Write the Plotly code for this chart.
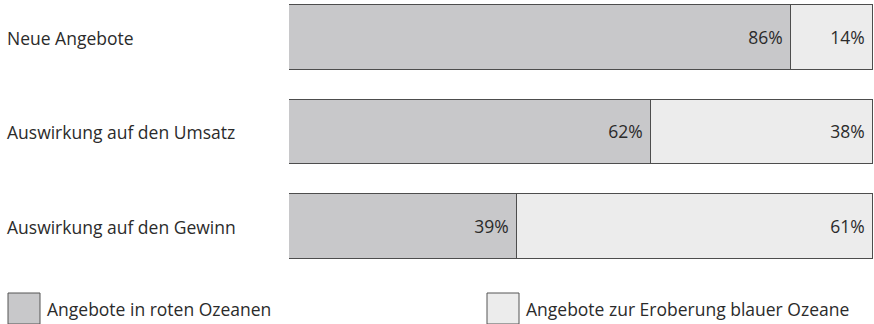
import plotly.graph_objects as go

categories = ["Neue Angebote", "Auswirkung auf den Umsatz", "Auswirkung auf den Gewinn"]
red_ocean = [86, 62, 39]
blue_ocean = [14, 38, 61]
series_names = ["Angebote in roten Ozeanen", "Angebote zur Eroberung blauer Ozeane"]

W, H = 874, 324
GRAY = "#c8c8ca"
LIGHT = "#ececec"
EDGE = "#4d4d4d"
TXT = "#2b2b2b"
FONT = "Open Sans"
FS = 17.5

pos = list(range(len(categories)))

fig = go.Figure()
for vals, color, name in [(red_ocean, GRAY, series_names[0]), (blue_ocean, LIGHT, series_names[1])]:
    fig.add_trace(go.Bar(
        y=pos, x=vals, orientation="h", name=name,
        marker=dict(color=color, line=dict(color=EDGE, width=1.5)),
        width=0.68,
        text=[f"{v}%\u00a0" for v in vals],
        textposition="inside", insidetextanchor="end", textangle=0,
        textfont=dict(family=FONT, size=FS, color=TXT),
        showlegend=False,
    ))

# category labels on the left
for p, c in zip(pos, categories):
    fig.add_annotation(x=5 / W, xref="paper", xanchor="left", y=p, yref="y",
                       text=c, showarrow=False,
                       font=dict(family=FONT, size=FS, color=TXT))

# manual legend
legend_items = [(8, GRAY, series_names[0]), (487, LIGHT, series_names[1])]
for x0, color, name in legend_items:
    fig.add_shape(type="rect", xref="paper", yref="paper",
                  x0=x0 / W, x1=(x0 + 32) / W, y0=(H - 324) / H, y1=(H - 293) / H,
                  fillcolor=color, line=dict(color="#555555", width=1))
    fig.add_annotation(x=(x0 + 37) / W, xref="paper", xanchor="left",
                       y=(H - 309) / H, yref="paper", yanchor="middle",
                       text=name, showarrow=False,
                       font=dict(family=FONT, size=FS, color=TXT))

top_px, bottom_px, c0 = 0, 280, 37.5
unit = (226.5 - 37.5) / 2
fig.update_layout(
    width=W, height=H, barmode="stack", bargap=0,
    margin=dict(l=0, r=0, t=0, b=0),
    paper_bgcolor="white", plot_bgcolor="white",
    xaxis=dict(range=[0, 100], domain=[289 / W, 873 / W], visible=False, fixedrange=True),
    yaxis=dict(range=[(bottom_px - c0) / unit, (top_px - c0) / unit],
               domain=[(H - bottom_px) / H, 1], visible=False, fixedrange=True),
)

fig.write_html("out.html")
